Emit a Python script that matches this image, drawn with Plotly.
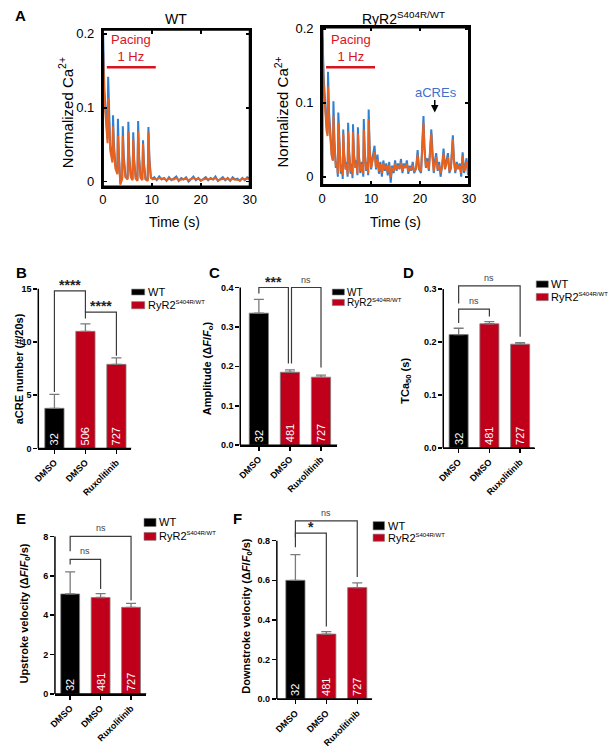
import plotly.graph_objects as go

W, H = 615, 750
SANS = "Liberation Sans, Arial, Helvetica, sans-serif"
BLUE = "#2f7fd2"
ORANGE = "#e8621f"
RED = "#c0001b"
PACE_RED = "#d8141e"
ACRE_BLUE = "#3f70cc"

# ---------------- Panel A data (normalized Ca2+ traces) ----------------
wt_t = [0, 0.05, 0.3, 0.6, 0.95,
        1.07, 1.25, 1.5, 1.95,
        2.07, 2.25, 2.55, 2.95,
        3.07, 3.25, 3.55, 3.95,
        4.07, 4.25, 4.6, 5.05,
        5.2, 5.38, 5.7, 6.05,
        6.2, 6.38, 6.7, 7.05,
        7.2, 7.38, 7.7, 8.05,
        8.2, 8.38, 8.7, 9.15,
        9.3, 9.5, 9.8, 10.2,
        10.5, 11.0, 11.5, 12.0, 12.5, 13.0, 13.5, 14.0, 14.5, 15.0,
        15.5, 16.0, 16.5, 17.0, 17.5, 18.0, 18.5, 19.0, 19.5, 20.0,
        20.5, 21.0, 21.5, 22.0, 22.5, 23.0, 23.5, 24.0, 24.5, 25.0,
        25.5, 26.0, 26.5, 27.0, 27.5, 28.0, 28.5, 29.0, 29.5, 30.0]
wt_blue = [0.0, 0.200, 0.125, 0.085, 0.058,
           0.142, 0.085, 0.048, 0.030,
           0.090, 0.050, 0.022, 0.012,
           0.085, 0.040, -0.002, 0.006,
           0.075, 0.036, 0.008, 0.004,
           0.081, 0.036, 0.008, 0.003,
           0.067, 0.030, 0.005, 0.002,
           0.082, 0.036, 0.006, 0.003,
           0.056, 0.026, 0.004, 0.002,
           0.074, 0.032, 0.006, 0.004,
           0.006, 0.002, 0.007, 0.003, 0.005, 0.001, 0.006, 0.002, 0.004, 0.007,
           0.001, 0.005, 0.003, 0.006, 0.000, 0.004, 0.007, 0.002, 0.005, 0.001,
           0.004, 0.006, 0.002, 0.005, 0.003, 0.007, 0.001, 0.004, 0.006, 0.002,
           0.005, 0.001, 0.006, 0.003, 0.004, 0.001, 0.005, 0.002, 0.006, 0.004]
wt_orange = [0.0, 0.176, 0.112, 0.078, 0.052,
             0.113, 0.072, 0.042, 0.026,
             0.075, 0.044, 0.018, 0.010,
             0.062, 0.034, -0.004, 0.004,
             0.062, 0.030, 0.006, 0.003,
             0.067, 0.030, 0.006, 0.002,
             0.058, 0.026, 0.004, 0.001,
             0.069, 0.030, 0.005, 0.002,
             0.051, 0.022, 0.003, 0.001,
             0.067, 0.028, 0.005, 0.003,
             0.004, 0.003, 0.005, 0.004, 0.004, 0.002, 0.004, 0.003, 0.003, 0.005,
             0.002, 0.003, 0.003, 0.004, 0.002, 0.003, 0.005, 0.003, 0.004, 0.002,
             0.003, 0.004, 0.003, 0.004, 0.003, 0.005, 0.002, 0.003, 0.004, 0.003,
             0.004, 0.002, 0.004, 0.003, 0.003, 0.002, 0.004, 0.003, 0.004, 0.004]

ryr_t = [0, 0.05, 0.3, 0.6, 0.9, 1.1, 1.2, 1.4, 1.7, 1.95,
         2.2, 2.3, 2.5, 2.8, 3.05, 3.2, 3.3, 3.5, 3.8, 4.05,
         4.2, 4.3, 4.5, 4.8, 5.05, 5.2, 5.3, 5.5, 5.8, 6.05,
         6.2, 6.3, 6.5, 6.8, 7.05, 7.2, 7.3, 7.5, 7.8, 8.1,
         8.4, 8.5, 8.7, 9.0, 9.25, 9.4, 9.5, 9.7, 10.0, 10.3,
         10.7, 11.0, 11.3, 11.6, 11.9, 12.2, 12.5, 12.8, 13.1, 13.4,
         13.7, 14.0, 14.3, 14.6, 14.9, 15.2, 15.5, 15.8, 16.1, 16.4,
         16.7, 17.0, 17.3, 17.6, 17.9, 18.2, 18.5, 18.8, 19.2, 19.5,
         19.8, 20.2, 20.7, 20.9, 21.2, 21.5, 21.8, 22.3, 22.5, 22.8,
         23.0, 23.3, 23.6, 23.9, 24.2, 24.5, 24.8, 25.1, 25.4, 25.7,
         26.0, 26.3, 26.7, 26.9, 27.2, 27.5, 27.8, 28.1, 28.4, 28.7,
         29.0, 29.3, 29.5, 29.8, 30.0]
ryr_blue = [0.0, 0.200, 0.135, 0.092, 0.068, 0.058, 0.142, 0.088, 0.048, 0.030,
            0.022, 0.102, 0.050, 0.012, 0.020, 0.000, 0.087, 0.040, 0.004, 0.016,
            -0.003, 0.064, 0.030, 0.010, 0.020, 0.000, 0.073, 0.035, 0.004, 0.018,
            -0.002, 0.071, 0.030, 0.012, 0.022, 0.002, 0.067, 0.030, 0.005, 0.020,
            0.000, 0.078, 0.035, 0.008, 0.020, 0.002, 0.091, 0.040, 0.010, 0.026,
            0.042, 0.010, 0.030, 0.004, 0.020, 0.000, 0.022, 0.008, 0.018, 0.002,
            0.020, -0.008, 0.015, 0.005, 0.022, 0.008, 0.018, 0.010, 0.024, 0.005,
            0.018, 0.012, 0.022, 0.004, 0.015, 0.008, 0.020, 0.005, 0.012, 0.036,
            0.010, 0.005, 0.082, 0.040, 0.012, 0.025, 0.008, 0.064, 0.030, 0.005,
            0.020, 0.032, 0.008, 0.020, 0.000, 0.015, 0.038, 0.010, 0.022, 0.032,
            0.005, 0.012, 0.056, 0.025, 0.005, 0.020, 0.010, 0.018, 0.000, 0.033,
            0.005, 0.015, 0.025, 0.002, 0.010]
ryr_orange = [0.0, 0.187, 0.125, 0.085, 0.062, 0.055, 0.122, 0.078, 0.044, 0.028,
              0.022, 0.082, 0.045, 0.014, 0.018, 0.004, 0.073, 0.036, 0.008, 0.014,
              0.002, 0.058, 0.028, 0.010, 0.017, 0.003, 0.062, 0.032, 0.007, 0.015,
              0.003, 0.060, 0.028, 0.012, 0.018, 0.004, 0.058, 0.027, 0.008, 0.017,
              0.004, 0.064, 0.032, 0.010, 0.017, 0.005, 0.078, 0.036, 0.012, 0.022,
              0.034, 0.012, 0.024, 0.008, 0.017, 0.005, 0.018, 0.010, 0.015, 0.006,
              0.016, 0.000, 0.012, 0.008, 0.018, 0.010, 0.015, 0.011, 0.019, 0.008,
              0.015, 0.012, 0.018, 0.007, 0.013, 0.009, 0.016, 0.007, 0.011, 0.030,
              0.011, 0.007, 0.073, 0.036, 0.013, 0.021, 0.010, 0.058, 0.027, 0.008,
              0.017, 0.027, 0.010, 0.016, 0.005, 0.013, 0.032, 0.011, 0.018, 0.027,
              0.008, 0.011, 0.051, 0.023, 0.008, 0.017, 0.011, 0.015, 0.005, 0.028,
              0.008, 0.013, 0.021, 0.006, 0.010]

time_ticks = [0, 10, 20, 30]
ca_ticks = [0, 0.1, 0.2]
ca_ticktext = ["0", "0.1", "0.2"]
pacing_window = [0.8, 10.8]

# ---------------- Bar panel data ----------------
categories = ["DMSO", "DMSO", "Ruxolitinib"]
n_cells_B = ["32", "506", "727"]
n_cells = ["32", "481", "727"]

acre_mean = [3.77, 11.0, 7.9]
acre_sem = [1.3, 0.7, 0.6]
amp_mean = [0.335, 0.185, 0.1725]
amp_sem = [0.035, 0.006, 0.005]
tca_mean = [0.214, 0.2345, 0.196]
tca_sem = [0.012, 0.004, 0.003]
up_mean = [5.08, 4.9, 4.4]
up_sem = [1.12, 0.2, 0.2]
down_mean = [0.6, 0.328, 0.563]
down_sem = [0.13, 0.013, 0.024]

# brackets: (x_left, x_right, top, left_end, right_end, label)
brackets_B = [(0, 1, 14.8, 5.3, 12.8, "****"), (1, 2, 12.8, 12.2, 8.7, "****")]
brackets_C = [(0, 0.95, 0.40, 0.385, 0.207, "***"), (1.05, 2, 0.40, 0.207, 0.197, "ns")]
brackets_D = [(0, 2, 0.306, 0.273, 0.21, "ns"), (0, 1, 0.262, 0.236, 0.248, "ns")]
brackets_E = [(0, 2, 8.0, 7.25, 4.75, "ns"), (0, 1, 6.83, 6.58, 5.33, "ns")]
brackets_F = [(0, 2, 0.9, 0.817, 0.617, "ns"), (0, 1, 0.838, 0.767, 0.367, "*")]

bar_colors = ["#000000", RED, RED]


def PX(x):
    return x / W


def PY(y):
    return 1 - y / H


fig = go.Figure()
layout = dict(width=W, height=H, margin=dict(l=0, r=0, t=0, b=0), autosize=False,
              paper_bgcolor="white", plot_bgcolor="rgba(0,0,0,0)", showlegend=False)
shapes = []
annotations = []


def sfx(n):
    return "" if n == 1 else str(n)


def trace_panel(n, x0, x1, y0, y1, yrange, t, blue, orange, pace_y):
    s = sfx(n)
    tick_font = dict(family=SANS, size=13, color="black")
    layout["xaxis" + s] = dict(domain=[PX(x0), PX(x1)], range=[0, 30], anchor="y" + s,
                               showline=True, linewidth=2, linecolor="black", mirror="ticks",
                               ticks="inside", ticklen=4, tickwidth=1.5, tickcolor="black",
                               tickvals=time_ticks, showgrid=False, zeroline=False,
                               tickfont=tick_font)
    layout["yaxis" + s] = dict(domain=[PY(y1), PY(y0)], range=yrange, anchor="x" + s,
                               showline=True, linewidth=2, linecolor="black", mirror="ticks",
                               ticks="inside", ticklen=4, tickwidth=1.5, tickcolor="black",
                               tickvals=ca_ticks, ticktext=ca_ticktext, showgrid=False,
                               zeroline=False, ticklabelstandoff=4, tickfont=tick_font)
    fig.add_trace(go.Scatter(x=t, y=blue, mode="lines", line=dict(color=BLUE, width=2),
                             xaxis="x" + s, yaxis="y" + s, hoverinfo="skip"))
    fig.add_trace(go.Scatter(x=t, y=orange, mode="lines", line=dict(color=ORANGE, width=2),
                             xaxis="x" + s, yaxis="y" + s, hoverinfo="skip"))
    # frame (box) of the subplot
    shapes.append(dict(type="rect", xref="x" + s + " domain", yref="y" + s + " domain",
                       x0=0, x1=1, y0=0, y1=1, line=dict(color="black", width=2)))
    shapes.append(dict(type="line", xref="x" + s, yref="y" + s, x0=pacing_window[0],
                       x1=pacing_window[1], y0=pace_y, y1=pace_y,
                       line=dict(color=PACE_RED, width=2.5)))
    annotations.append(dict(xref="x" + s, yref="y" + s, x=sum(pacing_window) / 2, y=pace_y,
                            yanchor="bottom", xanchor="center", yshift=1, showarrow=False,
                            text="Pacing<br>1 Hz",
                            font=dict(family=SANS, size=13, color=PACE_RED)))


trace_panel(1, 99, 249, 24, 183.3, [-0.0067, 0.2058], wt_t, wt_blue, wt_orange, 0.155)
trace_panel(2, 323, 473, 21.7, 181.7, [-0.0112, 0.202], ryr_t, ryr_blue, ryr_orange, 0.148)

# titles / labels for A
for txt, x, y in [("WT", 174, 13), ("RyR2<sup>S404R/WT</sup>", 406, 12)]:
    annotations.append(dict(xref="paper", yref="paper", x=PX(x), y=PY(y), showarrow=False,
                            xanchor="center", yanchor="middle", text=txt,
                            font=dict(family=SANS, size=14, color="black")))
for x in [61, 281]:
    annotations.append(dict(xref="paper", yref="paper", x=PX(x), y=PY(108), showarrow=False,
                            xanchor="center", yanchor="middle", textangle=-90,
                            text="Normalized Ca<sup>2+</sup>",
                            font=dict(family=SANS, size=15, color="black")))
for x in [172, 398]:
    annotations.append(dict(xref="paper", yref="paper", x=PX(x), y=PY(219), showarrow=False,
                            xanchor="center", yanchor="middle", text="Time (s)",
                            font=dict(family=SANS, size=14, color="black")))
annotations.append(dict(xref="x2", yref="y2", x=23.0, y=0.087, ax=0, ay=-14, showarrow=True,
                        arrowhead=2, arrowsize=1, arrowwidth=1.5, arrowcolor="black", text=""))
annotations.append(dict(xref="x2", yref="y2", x=23.3, y=0.1137, showarrow=False,
                        xanchor="center", yanchor="middle", text="aCREs",
                        font=dict(family=SANS, size=13, color=ACRE_BLUE)))


def bar_panel(n, x0px, x1px, zero_px, ymax, ymax_px, top_px, xrange, yticks, fmt,
              means, sems, ntext, brackets):
    s = sfx(n)
    scale = (zero_px - ymax_px) / ymax
    ytop = (zero_px - top_px) / scale
    bold9 = dict(family=SANS, size=9, color="black", weight="bold")
    layout["xaxis" + s] = dict(domain=[PX(x0px), PX(x1px)], range=xrange, anchor="y" + s,
                               showline=True, linewidth=1.5, linecolor="black",
                               ticks="outside", ticklen=4, tickwidth=1.5, tickcolor="black",
                               tickvals=[0, 1, 2], ticktext=categories, tickangle=-45,
                               showgrid=False, zeroline=False, tickfont=bold9)
    layout["yaxis" + s] = dict(domain=[PY(zero_px), PY(top_px)], range=[0, ytop],
                               anchor="x" + s, showline=False, ticks="outside", ticklen=4,
                               tickwidth=1.5, tickcolor="black", tickvals=yticks,
                               tickformat=fmt, showgrid=False, zeroline=False, tickfont=bold9)
    # axis lines
    shapes.append(dict(type="line", xref="x" + s + " domain", yref="y" + s, x0=0, x1=0,
                       y0=0, y1=ymax, line=dict(color="black", width=1.5)))
    shapes.append(dict(type="line", xref="x" + s + " domain", yref="y" + s, x0=0, x1=1,
                       y0=0, y1=0, line=dict(color="black", width=1.5)))
    fig.add_trace(go.Bar(x=[0, 1, 2], y=means, width=0.62, xaxis="x" + s, yaxis="y" + s,
                         marker=dict(color=bar_colors, line=dict(color="#808080", width=0.8)),
                         error_y=dict(type="data", array=sems, arrayminus=[0, 0, 0],
                                      symmetric=False, color="#7a7a7a", thickness=1.3, width=5),
                         text=ntext, textposition="inside", insidetextanchor="start",
                         textangle=-90, constraintext="none",
                         textfont=dict(family=SANS, size=11, color="white"),
                         hoverinfo="skip"))
    for (xl, xr, top, yl, yr, lab) in brackets:
        fig.add_trace(go.Scatter(x=[xl, xl, xr, xr], y=[yl, top, top, yr], mode="lines",
                                 line=dict(color="#3a3a3a", width=1.2), xaxis="x" + s,
                                 yaxis="y" + s, hoverinfo="skip"))
        star = lab != "ns"
        annotations.append(dict(xref="x" + s, yref="y" + s, x=(xl + xr) / 2, y=top,
                                yanchor="bottom", xanchor="center", showarrow=False,
                                yshift=-4 if star else 1, text=lab,
                                font=dict(family=SANS, size=14 if star else 9,
                                          color="#222222" if star else "#444444",
                                          weight="bold" if star else "normal")))


bar_panel(3, 33, 128, 449, 15, 287, 272, [-0.52, 2.48], [0, 5, 10, 15], None,
          acre_mean, acre_sem, n_cells_B, brackets_B)
bar_panel(4, 239.3, 338.3, 445.7, 0.4, 285.7, 270, [-0.6, 2.52], [0, 0.1, 0.2, 0.3, 0.4], ".1f",
          amp_mean, amp_sem, n_cells, brackets_C)
bar_panel(5, 446.7, 540, 448.5, 0.3, 287.3, 270, [-0.5, 2.47], [0, 0.1, 0.2, 0.3], ".1f",
          tca_mean, tca_sem, n_cells, brackets_D)
bar_panel(6, 50, 143.3, 698.3, 8, 538.3, 520, [-0.5, 2.5], [0, 2, 4, 6, 8], None,
          up_mean, up_sem, n_cells, brackets_E)
bar_panel(7, 276.7, 374, 703.3, 0.8, 542.7, 505, [-0.6, 2.48], [0, 0.2, 0.4, 0.6, 0.8], ".1f",
          down_mean, down_sem, n_cells, brackets_F)

# y-axis titles for bar panels
for txt, x, y in [("aCRE number (#/20s)", 13, 368),
                  ("Amplitude (Δ<i>F</i>/<i>F</i><sub>o</sub>)", 206, 368),
                  ("TCa<sub>50</sub> (s)", 409, 380),
                  ("Upstroke velocity (Δ<i>F</i>/<i>F</i><sub>0</sub>/s)", 19, 617),
                  ("Downstroke velocity (Δ<i>F</i>/<i>F</i><sub>0</sub>/s)", 246, 619)]:
    annotations.append(dict(xref="paper", yref="paper", x=PX(x), y=PY(y), showarrow=False,
                            xanchor="center", yanchor="middle", textangle=-90, text=txt,
                            font=dict(family=SANS, size=11, color="black", weight="bold")))

# panel letters
for txt, x, y in [("A", 15, 10), ("B", 16, 270), ("C", 213, 270), ("D", 411, 270),
                  ("E", 15, 520), ("F", 237, 520)]:
    annotations.append(dict(xref="paper", yref="paper", x=PX(x), y=PY(y), showarrow=False,
                            xanchor="center", yanchor="middle", text=txt,
                            font=dict(family=SANS, size=15, color="black", weight="bold")))

# legends (swatch + label): x0, x1, black y0, y1, red y0, y1, font size
legend_specs = [(128.3, 141.7, 287.3, 293.3, 300, 307.3, 11),
                (333.3, 345.7, 287.3, 293.3, 297.7, 304, 10),
                (541.7, 554, 279, 285.7, 291.7, 299, 11),
                (141, 153.3, 520, 528.3, 534.3, 542.3, 11),
                (375, 386.7, 523.3, 531.7, 536, 543.3, 11)]
for (lx0, lx1, by0, by1, ry0, ry1, fs) in legend_specs:
    shapes.append(dict(type="rect", xref="paper", yref="paper", x0=PX(lx0), x1=PX(lx1),
                       y0=PY(by1), y1=PY(by0), fillcolor="#000000",
                       line=dict(color="#808080", width=0.6)))
    shapes.append(dict(type="rect", xref="paper", yref="paper", x0=PX(lx0), x1=PX(lx1),
                       y0=PY(ry1), y1=PY(ry0), fillcolor=RED,
                       line=dict(color="#808080", width=0.6)))
    annotations.append(dict(xref="paper", yref="paper", x=PX(lx1 + 1), y=PY((by0 + by1) / 2),
                            showarrow=False, xanchor="left", yanchor="middle", text="WT",
                            font=dict(family=SANS, size=fs, color="black")))
    annotations.append(dict(xref="paper", yref="paper", x=PX(lx1 + 1), y=PY((ry0 + ry1) / 2),
                            showarrow=False, xanchor="left", yanchor="middle",
                            text="RyR2<sup><span style='font-size:6px'>S404R/WT</span></sup>",
                            font=dict(family=SANS, size=fs, color="black")))

layout["shapes"] = shapes
layout["annotations"] = annotations
fig.update_layout(**layout)
fig.write_html("out.html",
               config={"displayModeBar": False, "staticPlot": True},
               post_script="document.body.style.margin='0px';"
                           "document.body.style.overflow='hidden';")
